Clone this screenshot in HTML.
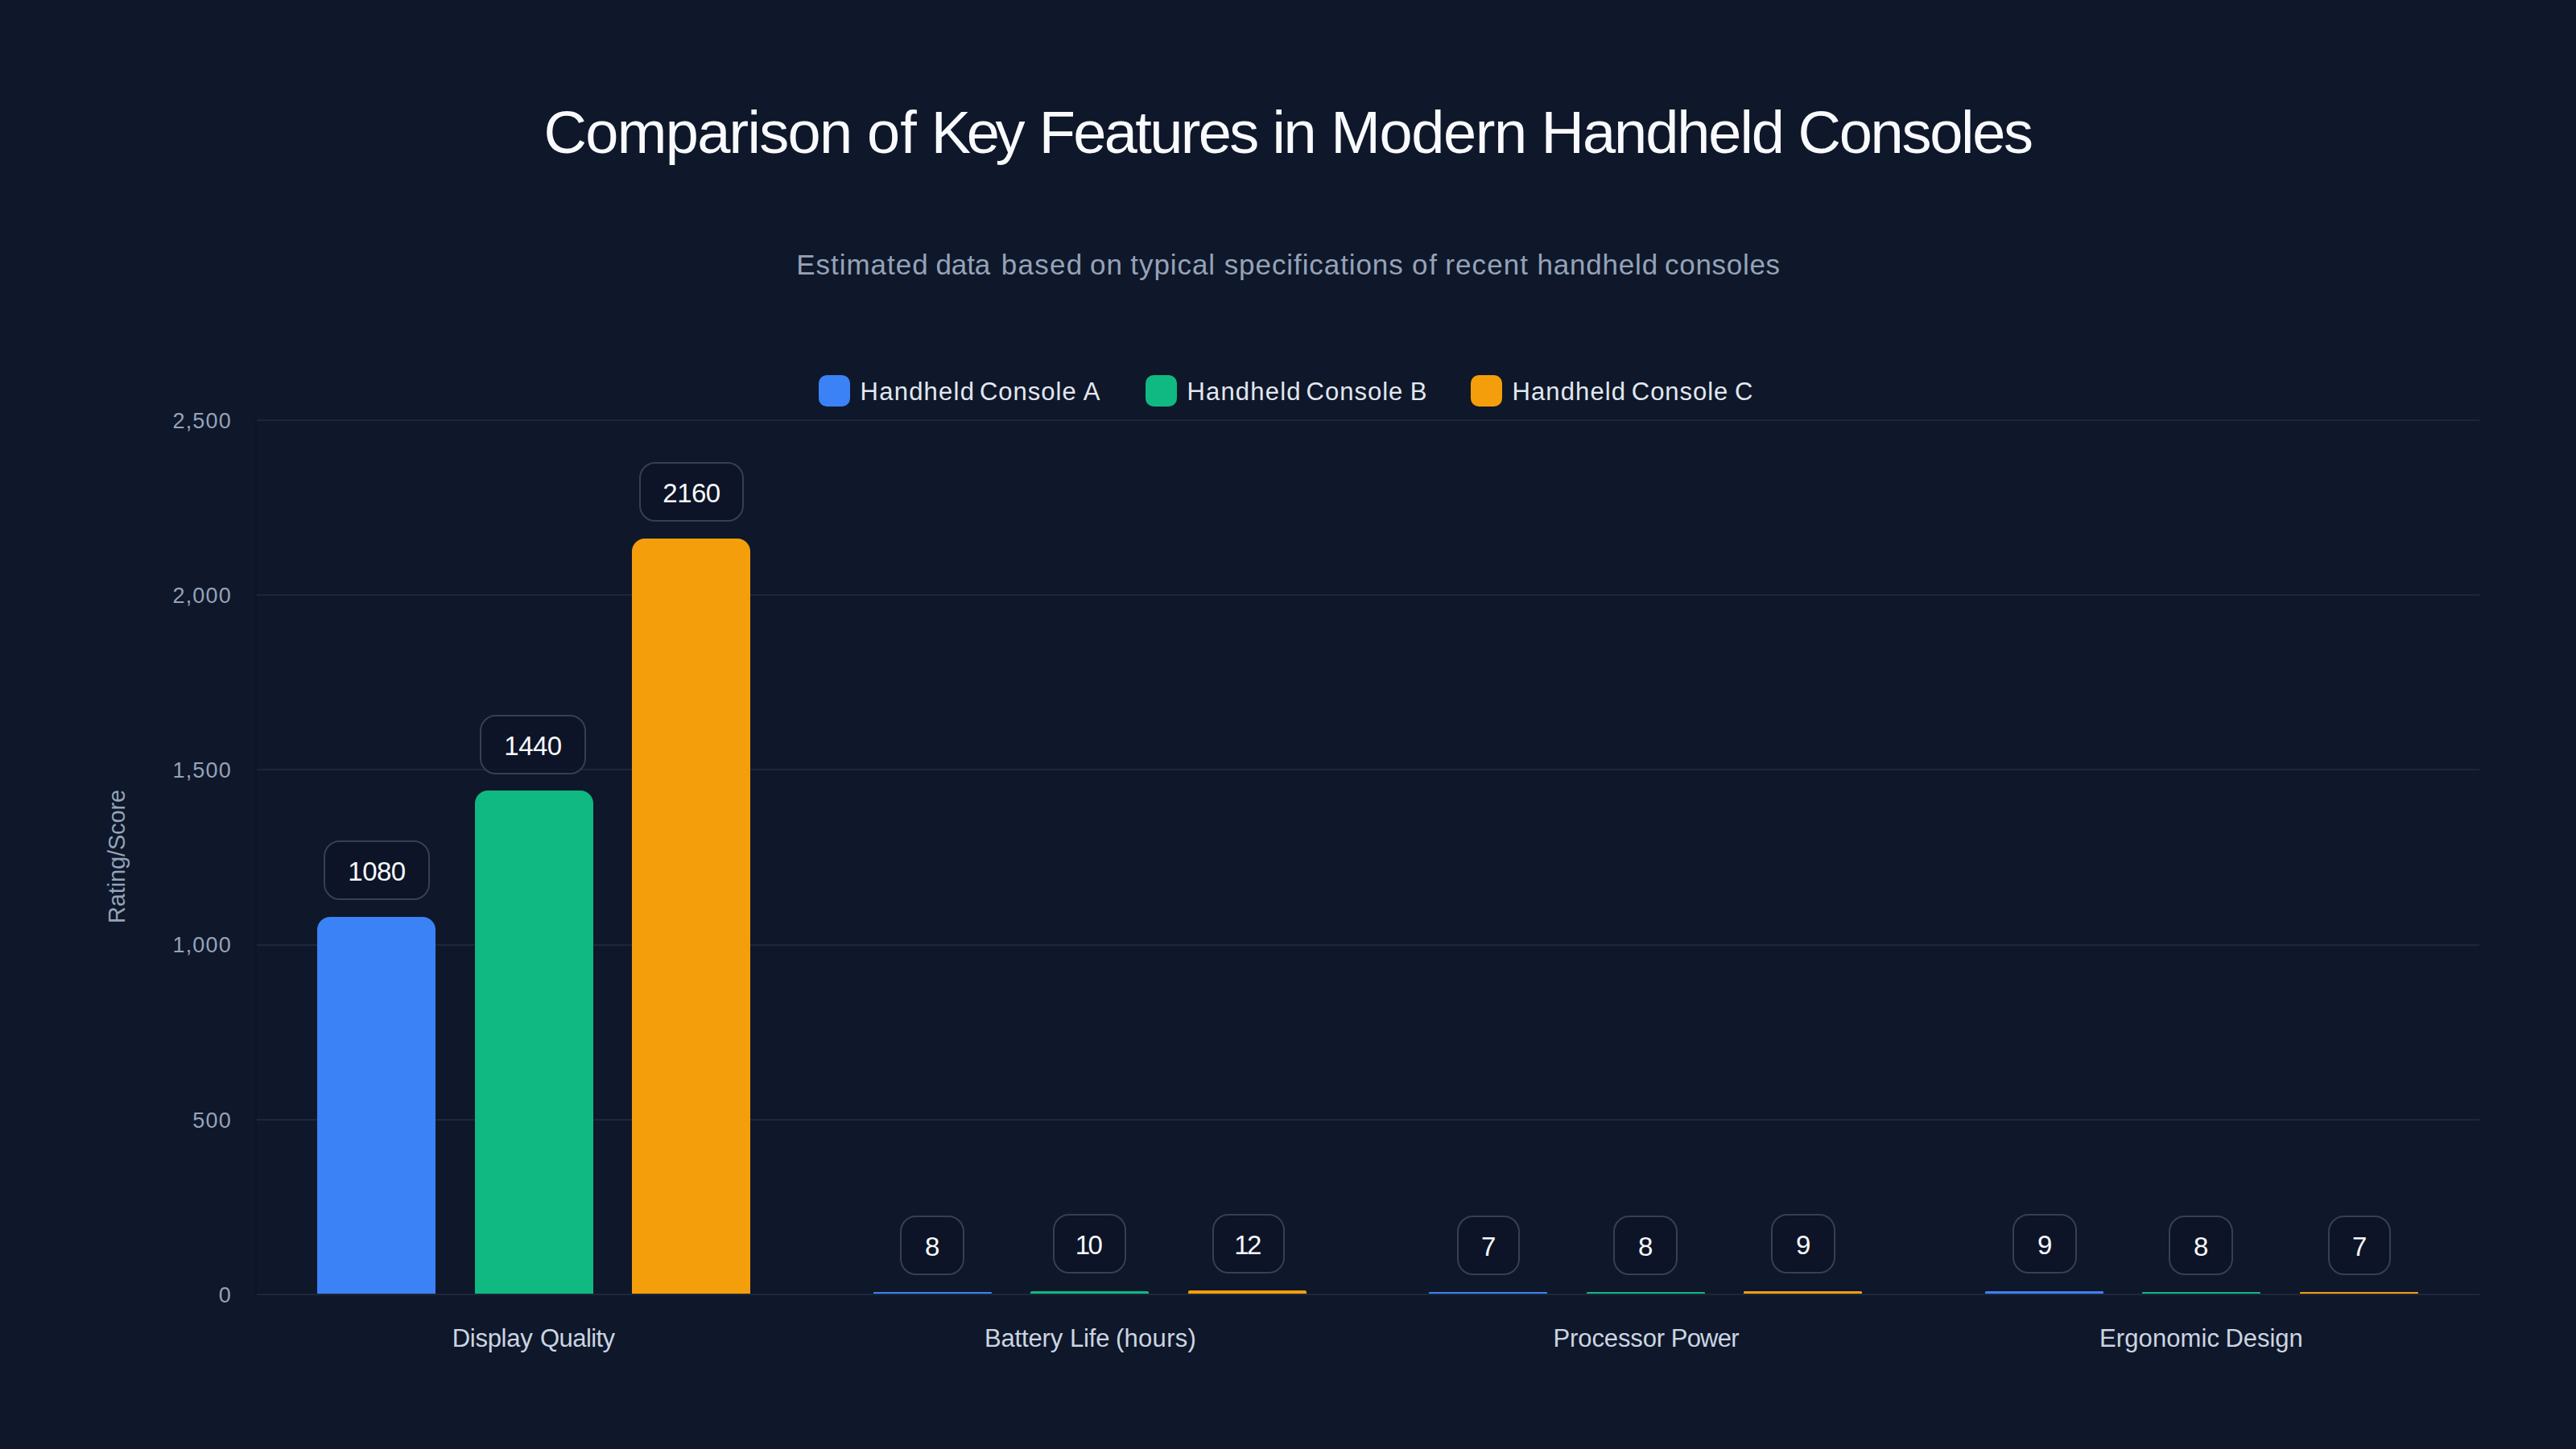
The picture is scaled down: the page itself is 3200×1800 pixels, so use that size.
<!DOCTYPE html>
<html lang="en"><head><meta charset="utf-8"><title>Comparison of Key Features in Modern Handheld Consoles</title>
<style>
html,body{margin:0;padding:0;background:#0f172a;}
body{width:3200px;height:1800px;position:relative;overflow:hidden;font-family:"Liberation Sans",sans-serif;}
.t{position:absolute;white-space:nowrap;line-height:1;}
.r{transform:translateX(-100%);}
.t span{position:absolute;top:0;}
.grid{position:absolute;left:319px;width:2761px;height:2px;background:#1e263a;}
.bar{position:absolute;}
.lbl{position:absolute;box-sizing:border-box;height:74px;border:2px solid #354052;border-radius:20px;background:rgba(12,20,39,0.8);color:#f8fafc;font-size:33px;letter-spacing:-0.5px;line-height:73px;text-align:center;}
.sw{position:absolute;width:39px;height:39px;border-radius:10px;top:466px;margin-left:-0.3px;}
.yl{font-size:27px;letter-spacing:1.2px;color:#94a3b8;left:288px;}
</style></head><body>

<div class="t" id="title" style="left:0;top:127.86px;font-size:74px;color:#f8fafc;">
<span style="left:675.6px;letter-spacing:-1.71px">Comparison</span> <span style="left:1077.0px;letter-spacing:0.00px">of</span> <span style="left:1156.8px;letter-spacing:-5.40px">Key</span> <span style="left:1290.8px;letter-spacing:-2.66px">Features</span> <span style="left:1580.5px;letter-spacing:-2.40px">in</span> <span style="left:1653.3px;letter-spacing:-1.40px">Modern</span> <span style="left:1914.6px;letter-spacing:-2.06px">Handheld</span> <span style="left:2233.6px;letter-spacing:-2.29px">Consoles</span>
</div>
<div class="t" id="sub" style="left:0;top:310.97px;font-size:35px;color:#94a3b8;">
<span style="left:989.2px;letter-spacing:0.98px">Estimated</span> <span style="left:1162.4px;letter-spacing:-0.07px">data</span> <span style="left:1243.8px;letter-spacing:1.25px">based</span> <span style="left:1354.0px;letter-spacing:1.00px">on</span> <span style="left:1404.3px;letter-spacing:0.93px">typical</span> <span style="left:1520.7px;letter-spacing:0.92px">specifications</span> <span style="left:1753.9px;letter-spacing:2.00px">of</span> <span style="left:1795.3px;letter-spacing:1.08px">recent</span> <span style="left:1909.5px;letter-spacing:0.80px">handheld</span> <span style="left:2068.1px;letter-spacing:0.69px">consoles</span>
</div>
<div class="t" id="legA" style="left:0;top:470.86px;font-size:31px;color:#e2e8f0;">
<span style="left:1068.6px;letter-spacing:1.23px">Handheld</span> <span style="left:1216.9px;letter-spacing:1.00px">Console</span> <span style="left:1345.8px;letter-spacing:0.00px">A</span>
</div>
<div class="t" id="legB" style="left:0;top:470.86px;font-size:31px;color:#e2e8f0;">
<span style="left:1474.4px;letter-spacing:1.20px">Handheld</span> <span style="left:1622.6px;letter-spacing:1.00px">Console</span> <span style="left:1751.7px;letter-spacing:0.00px">B</span>
</div>
<div class="t" id="legC" style="left:0;top:470.86px;font-size:31px;color:#e2e8f0;">
<span style="left:1878.4px;letter-spacing:1.14px">Handheld</span> <span style="left:2026.8px;letter-spacing:0.97px">Console</span> <span style="left:2155.0px;letter-spacing:0.00px">C</span>
</div>
<div class="t" id="xl0" style="left:0;top:1647.16px;font-size:31px;color:#cbd5e1;">
<span style="left:561.7px;letter-spacing:-0.27px">Display</span> <span style="left:671.0px;letter-spacing:-0.57px">Quality</span>
</div>
<div class="t" id="xl1" style="left:0;top:1647.16px;font-size:31px;color:#cbd5e1;">
<span style="left:1222.9px;letter-spacing:-0.13px">Battery</span> <span style="left:1328.9px;letter-spacing:-0.13px">Life</span> <span style="left:1386.0px;letter-spacing:0.27px">(hours)</span>
</div>
<div class="t" id="xl2" style="left:0;top:1647.16px;font-size:31px;color:#cbd5e1;">
<span style="left:1929.5px;letter-spacing:-0.12px">Processor</span> <span style="left:2075.8px;letter-spacing:-0.80px">Power</span>
</div>
<div class="t" id="xl3" style="left:0;top:1647.16px;font-size:31px;color:#cbd5e1;">
<span style="left:2608.0px;letter-spacing:0.10px">Ergonomic</span> <span style="left:2764.5px;letter-spacing:-0.04px">Design</span>
</div>
<div class="sw" style="left:1017.5px;background:#3b82f6;"></div>
<div class="sw" style="left:1423.5px;background:#10b981;"></div>
<div class="sw" style="left:1827.5px;background:#f59e0b;"></div>
<div style="position:absolute;left:317px;top:521px;width:2px;height:1088px;background:#0d1424;"></div>
<div class="grid" style="top:1607.0px;"></div>
<div class="t r yl" id="yl0" style="top:1595.81px;">0</div>
<div class="grid" style="top:1389.8px;"></div>
<div class="t r yl" id="yl1" style="top:1378.61px;">500</div>
<div class="grid" style="top:1172.6px;"></div>
<div class="t r yl" id="yl2" style="top:1161.41px;">1,000</div>
<div class="grid" style="top:955.4px;"></div>
<div class="t r yl" id="yl3" style="top:944.21px;">1,500</div>
<div class="grid" style="top:738.2px;"></div>
<div class="t r yl" id="yl4" style="top:727.01px;">2,000</div>
<div class="grid" style="top:521.0px;"></div>
<div class="t r yl" id="yl5" style="top:509.81px;">2,500</div>
<div class="t" id="yt" style="left:145px;top:1064px;font-size:29px;letter-spacing:-0.15px;color:#94a3b8;transform:translate(-50%,-50%) rotate(-90deg);">Rating/Score</div>
<div class="bar" style="left:394.0px;top:1138.6px;width:147.2px;height:468.4px;background:#3b82f6;border-radius:16.0px 16.0px 0 0;"></div>
<div class="bar" style="left:589.6px;top:982.1px;width:147.2px;height:624.9px;background:#10b981;border-radius:16.0px 16.0px 0 0;"></div>
<div class="bar" style="left:785.2px;top:669.0px;width:147.2px;height:938.0px;background:#f59e0b;border-radius:16.0px 16.0px 0 0;"></div>
<div class="bar" style="left:1084.6px;top:1604.7px;width:147.2px;height:2.3px;background:#3b82f6;border-radius:1.1px 1.1px 0 0;"></div>
<div class="bar" style="left:1280.2px;top:1603.9px;width:147.2px;height:3.1px;background:#10b981;border-radius:1.6px 1.6px 0 0;"></div>
<div class="bar" style="left:1475.8px;top:1603.0px;width:147.2px;height:4.0px;background:#f59e0b;border-radius:2.0px 2.0px 0 0;"></div>
<div class="bar" style="left:1775.1px;top:1605.2px;width:147.2px;height:1.8px;background:#3b82f6;border-radius:0.9px 0.9px 0 0;"></div>
<div class="bar" style="left:1970.7px;top:1604.7px;width:147.2px;height:2.3px;background:#10b981;border-radius:1.1px 1.1px 0 0;"></div>
<div class="bar" style="left:2166.2px;top:1604.3px;width:147.2px;height:2.7px;background:#f59e0b;border-radius:1.4px 1.4px 0 0;"></div>
<div class="bar" style="left:2465.6px;top:1604.3px;width:147.2px;height:2.7px;background:#3b82f6;border-radius:1.4px 1.4px 0 0;"></div>
<div class="bar" style="left:2661.2px;top:1604.7px;width:147.2px;height:2.3px;background:#10b981;border-radius:1.1px 1.1px 0 0;"></div>
<div class="bar" style="left:2856.8px;top:1605.2px;width:147.2px;height:1.8px;background:#f59e0b;border-radius:0.9px 0.9px 0 0;"></div>
<div class="lbl" id="l00" style="left:402px;top:1044px;width:132px;">1080</div>
<div class="lbl" id="l01" style="left:596px;top:888px;width:132px;">1440</div>
<div class="lbl" id="l02" style="left:794px;top:574px;width:130px;">2160</div>
<div class="lbl" id="l10" style="left:1118px;top:1510px;width:80px;">8</div>
<div class="lbl" id="l11" style="left:1308px;top:1508px;width:91px;letter-spacing:-2.5px;padding-right:4px;">10</div>
<div class="lbl" id="l12" style="left:1506px;top:1508px;width:90px;letter-spacing:-2.5px;padding-right:4px;">12</div>
<div class="lbl" id="l20" style="left:1810px;top:1510px;width:78px;">7</div>
<div class="lbl" id="l21" style="left:2004px;top:1510px;width:80px;">8</div>
<div class="lbl" id="l22" style="left:2200px;top:1508px;width:80px;">9</div>
<div class="lbl" id="l30" style="left:2500px;top:1508px;width:80px;">9</div>
<div class="lbl" id="l31" style="left:2694px;top:1510px;width:80px;">8</div>
<div class="lbl" id="l32" style="left:2892px;top:1510px;width:78px;">7</div>
</body></html>
